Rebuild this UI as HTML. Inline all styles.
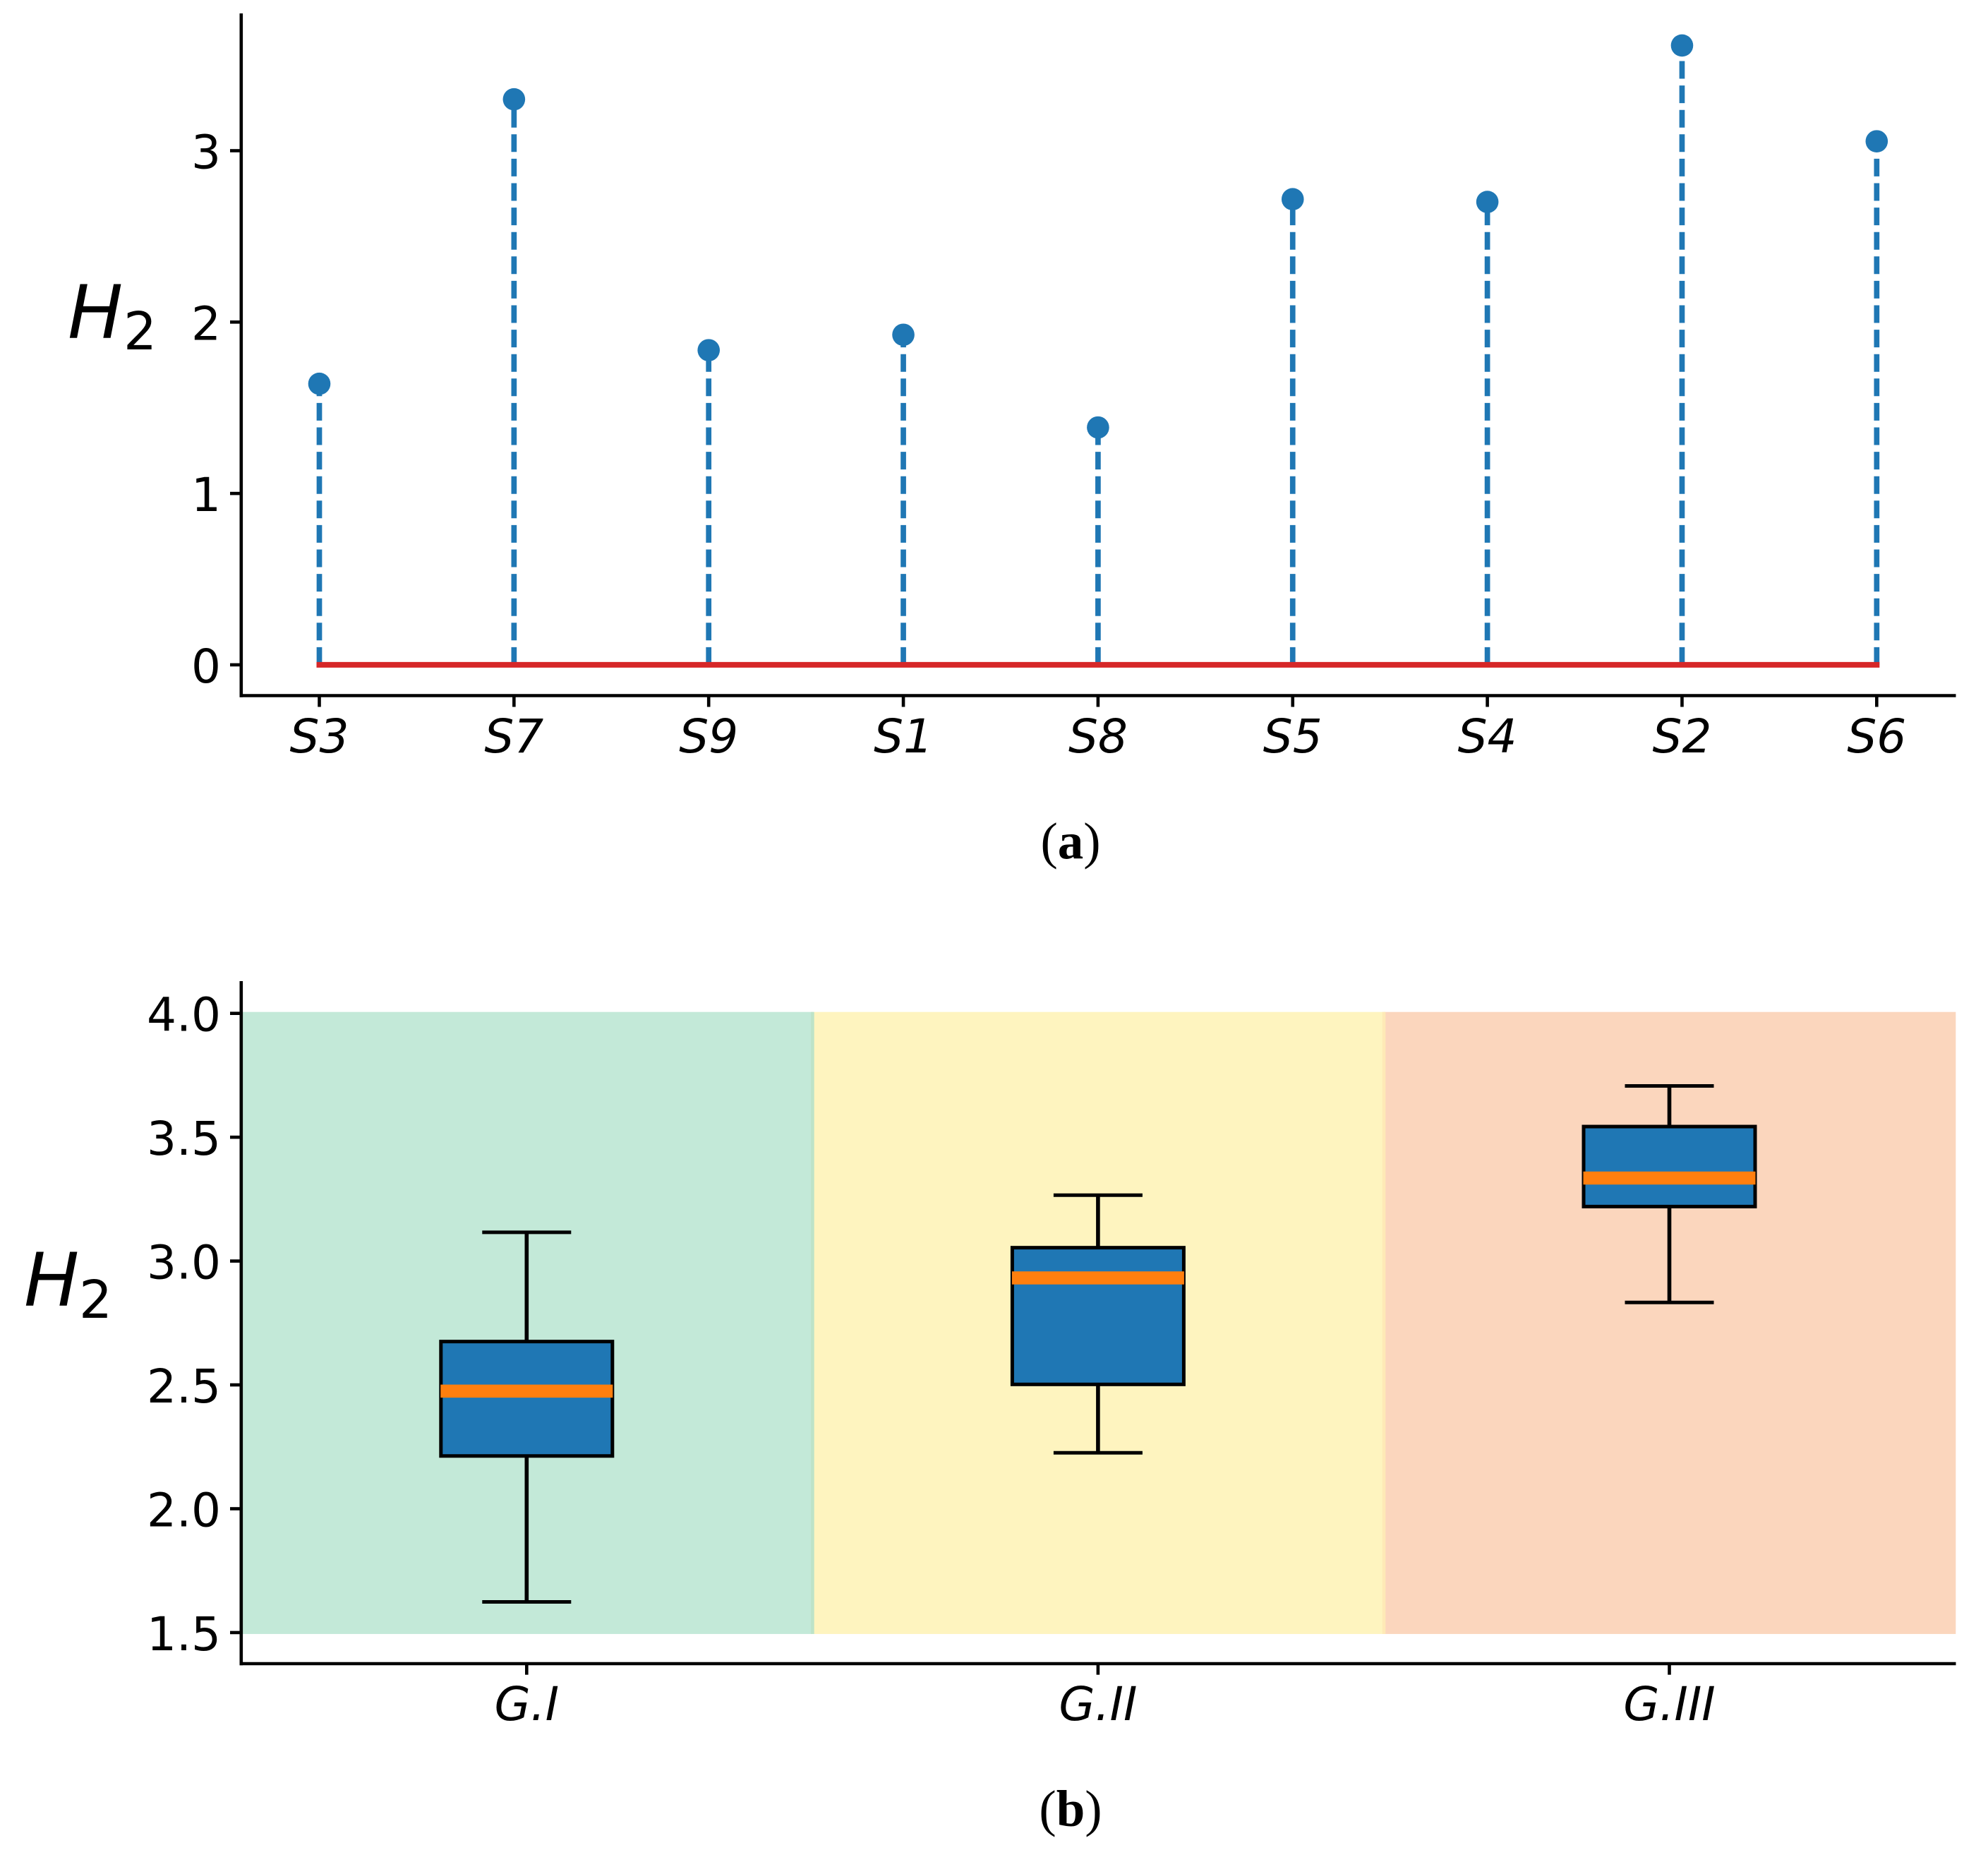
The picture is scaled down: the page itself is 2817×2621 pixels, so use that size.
<!DOCTYPE html>
<html lang="en">
<head>
<meta charset="utf-8">
<title>H2 stem plot and group box plot</title>
<style>
html,body{margin:0;padding:0;background:#fff;}
svg{display:block;}
text{font-family:"DejaVu Sans",sans-serif;fill:#000;}
.cap{font-family:"Liberation Serif",serif;font-size:73px;}
</style>
</head>
<body>
<svg id="chart" xmlns="http://www.w3.org/2000/svg" width="2817" height="2621" viewBox="0 0 2817 2621">
  <rect x="0" y="0" width="2817" height="2621" fill="#fff"/>
  <g id="panel-a"></g>
  <g id="panel-b"></g>
  <text font-style="italic" font-size="104" x="96" y="479">H<tspan font-style="normal" font-size="74" x="175" y="495">2</tspan></text>
  <text font-style="italic" font-size="104" x="34" y="1850">H<tspan font-style="normal" font-size="74" x="112" y="1867">2</tspan></text>
  <text class="cap" x="1517" y="1216" text-anchor="middle">(<tspan font-weight="bold">a</tspan>)</text>
  <text class="cap" x="1517" y="2587" text-anchor="middle">(<tspan font-weight="bold">b</tspan>)</text>
</svg>
<script>
// Panel (a) data
const stemCategories = ['S3','S7','S9','S1','S8','S5','S4','S2','S6'];
const stemValues = [1.64,3.30,1.836,1.926,1.385,2.717,2.701,3.614,3.055];
const stemYTicks = [0,1,2,3];
const stemYTickLabels = ['0','1','2','3'];

// Panel (b) data
const groupCategories = ['G.I','G.II','G.III'];
const whiskerLow = [1.624,2.226,2.833];
const quartile1 = [2.213,2.502,3.22];
const medians = [2.475,2.932,3.335];
const quartile3 = [2.675,3.054,3.543];
const whiskerHigh = [3.116,3.266,3.707];
const boxYTicks = [1.5,2.0,2.5,3.0,3.5,4.0];
const boxYTickLabels = ['1.5','2.0','2.5','3.0','3.5','4.0'];
const bandRangeY = [1.5,4.0];

const NS = 'http://www.w3.org/2000/svg';
function mk(tag, attrs, parent){
  const el = document.createElementNS(NS, tag);
  for(const k in attrs){ el.setAttribute(k, attrs[k]); }
  parent.appendChild(el);
  return el;
}
function line(x1,y1,x2,y2,stroke,w,parent){
  return mk('line',{x1:x1,y1:y1,x2:x2,y2:y2,stroke:stroke,'stroke-width':w},parent);
}

// Axis functions, panel (a)
const ax = i => 452.5 + 275.85*i;
const ay = v => 941.9 - 242.8*v;
// Axis functions, panel (b)
const bx = p => 746.3 + 809.6*(p-1);
const by = v => 1435.7 + (4-v)*350.9;

const SPINE = 4.6;
const pa = document.getElementById('panel-a');
const pb = document.getElementById('panel-b');

// ---------- Panel (a) ----------
stemCategories.forEach((c,i)=>{
  const s = line(ax(i),ay(0),ax(i),ay(stemValues[i]),'#1f77b4',7.7,pa);
  s.setAttribute('stroke-dasharray','25 9.6');
  
  
});
const baseline = line(ax(0),ay(0),ax(stemCategories.length-1),ay(0),'#d62728',8,pa);
baseline.setAttribute('stroke-linecap','square');


stemCategories.forEach((c,i)=>{
  const m = mk('circle',{cx:ax(i),cy:ay(stemValues[i]),r:15.8,fill:'#1f77b4'},pa);
  
  
});
const aSpineY = line(341.8,19,341.8,987.7,'#000',SPINE,pa);


const aSpineX = line(339.6,985.5,2771.5,985.5,'#000',SPINE,pa);


stemYTicks.forEach((v,i)=>{
  const t = line(326,ay(v),341,ay(v),'#000',SPINE,pa);
  
  
  const l = mk('text',{x:313,y:ay(v)+25,'text-anchor':'end','font-size':66},pa);
  l.textContent = stemYTickLabels[i];
  
  
});
stemCategories.forEach((c,i)=>{
  const t = line(ax(i),987,ax(i),1001.5,'#000',SPINE,pa);
  
  
  const l = mk('text',{x:ax(i),y:1066,'text-anchor':'middle','font-size':66,'font-style':'italic'},pa);
  l.textContent = c;
  
  
});

// ---------- Panel (b) ----------
const bandColors = ['#c3e9d8','#fef4bf','#fbd6bd'];
const stripeColors = ['#bde3c8','#fee9b6'];
groupCategories.forEach((g,i)=>{
  const left = bx(i+0.5), right = bx(i+1.5);
  const r = mk('rect',{x:left,y:by(bandRangeY[1])-2,width:right-left+1,height:by(bandRangeY[0])-by(bandRangeY[1])+4,fill:bandColors[i]},pb);
  
  
});
[1,2].forEach((b,i)=>{
  const mid = bx(b+0.5);
  const r = mk('rect',{x:mid-2,y:by(bandRangeY[1])-2,width:4.6,height:by(bandRangeY[0])-by(bandRangeY[1])+4,fill:stripeColors[i]},pb);
  
  
});
groupCategories.forEach((g,i)=>{
  const cx = bx(i+1);
  const wTop = line(cx,by(whiskerHigh[i]),cx,by(quartile3[i]),'#000',5.6,pb);
  
  
  const wBot = line(cx,by(quartile1[i]),cx,by(whiskerLow[i]),'#000',5.6,pb);
  
  
  const cTop = line(cx-63,by(whiskerHigh[i]),cx+63,by(whiskerHigh[i]),'#000',5,pb);
  
  
  const cBot = line(cx-63,by(whiskerLow[i]),cx+63,by(whiskerLow[i]),'#000',5,pb);
  
  
  const box = mk('rect',{x:cx-121.5,y:by(quartile3[i]),width:243,height:by(quartile1[i])-by(quartile3[i]),fill:'#1f77b4',stroke:'#000','stroke-width':5},pb);
  
  
  const med = line(cx-122,by(medians[i]),cx+122,by(medians[i]),'#ff7f0e',18.5,pb);
  
  
});
const bSpineY = line(341.8,1390,341.8,2359.2,'#000',SPINE,pb);


const bSpineX = line(339.6,2357,2771.5,2357,'#000',SPINE,pb);


boxYTicks.forEach((v,i)=>{
  const t = line(326,by(v),341,by(v),'#000',SPINE,pb);
  
  
  const l = mk('text',{x:313,y:by(v)+25,'text-anchor':'end','font-size':66},pb);
  l.textContent = boxYTickLabels[i];
  
  
});
groupCategories.forEach((g,i)=>{
  const t = line(bx(i+1),2358,bx(i+1),2372.7,'#000',SPINE,pb);
  
  
  const l = mk('text',{x:bx(i+1),y:2437,'text-anchor':'middle','font-size':66,'font-style':'italic'},pb);
  l.textContent = g;
  
  
});
</script>
</body>
</html>
